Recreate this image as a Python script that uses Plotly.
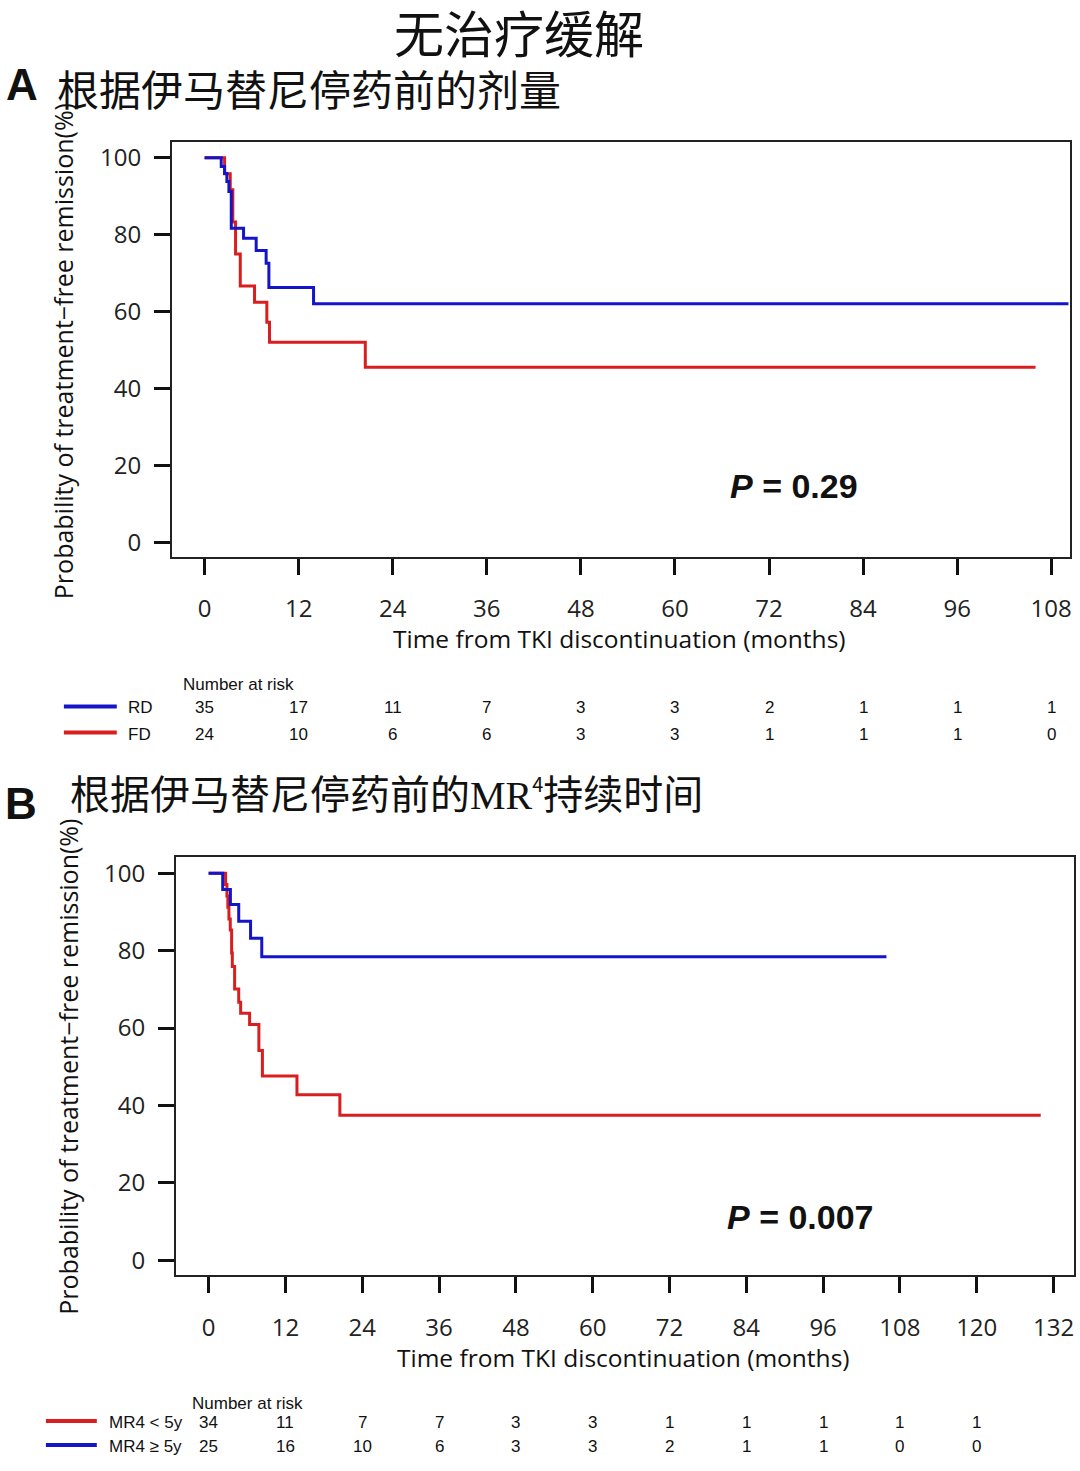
import plotly.graph_objects as go

W, H = 1080, 1471


def px(x):
    return x / W


def py(y):
    return 1 - y / H


RED = "#d81e1e"
BLUE = "#1414c8"

# ---------------- Panel A data ----------------
a_rd_t = [0, 2.12, 2.55, 2.84, 3.1, 3.4, 4.97, 6.58, 7.85, 8.2, 13.9, 110.2]
a_rd_s = [100, 97.7, 95.9, 93.8, 91.2, 81.7, 79.1, 75.9, 72.6, 66.3, 62.1, 62.1]
a_fd_t = [0, 2.55, 3.27, 3.6, 3.95, 4.55, 6.37, 7.94, 8.28, 20.5, 106]
a_fd_s = [100, 95.8, 91.7, 83.3, 75.0, 66.7, 62.5, 57.3, 52.1, 45.6, 45.6]
a_xticks = [0, 12, 24, 36, 48, 60, 72, 84, 96, 108]
a_risk_rd = [35, 17, 11, 7, 3, 3, 2, 1, 1, 1]
a_risk_fd = [24, 10, 6, 6, 3, 3, 1, 1, 1, 0]

# ---------------- Panel B data ----------------
b_ge_t = [0, 2.2, 3.4, 4.7, 6.55, 8.3, 105.9]
b_ge_s = [100, 95.8, 91.9, 87.6, 83.2, 78.4, 78.4]
b_lt_t = [0, 2.65, 2.86, 3.0, 3.17, 3.38, 3.59, 3.7, 4.06, 4.7, 5.0, 6.4, 7.85, 8.4, 13.8, 20.5, 130]
b_lt_s = [100, 97.1, 94.1, 91.2, 88.2, 85.3, 79.4, 75.9, 70.1, 66.7, 63.8, 60.9, 54.2, 47.6, 42.8, 37.5, 37.5]
b_xticks = [0, 12, 24, 36, 48, 60, 72, 84, 96, 108, 120, 132]
b_risk_times = [0, 12, 24, 36, 48, 60, 72, 84, 96, 108, 120]
b_risk_lt = [34, 11, 7, 7, 3, 3, 1, 1, 1, 1, 1]
b_risk_ge = [25, 16, 10, 6, 3, 3, 2, 1, 1, 0, 0]

y_ticks = [0, 20, 40, 60, 80, 100]

fig = go.Figure()
fig.add_trace(go.Scatter(x=a_fd_t, y=a_fd_s, mode="lines", line=dict(shape="hv", color=RED, width=3),
                         xaxis="x", yaxis="y", showlegend=False, name="FD"))
fig.add_trace(go.Scatter(x=a_rd_t, y=a_rd_s, mode="lines", line=dict(shape="hv", color=BLUE, width=3),
                         xaxis="x", yaxis="y", showlegend=False, name="RD"))
fig.add_trace(go.Scatter(x=b_lt_t, y=b_lt_s, mode="lines", line=dict(shape="hv", color=RED, width=3),
                         xaxis="x2", yaxis="y2", showlegend=False, name="MR4 < 5y"))
fig.add_trace(go.Scatter(x=b_ge_t, y=b_ge_s, mode="lines", line=dict(shape="hv", color=BLUE, width=3),
                         xaxis="x2", yaxis="y2", showlegend=False, name="MR4 ≥ 5y"))

TICKFONT = dict(family="Open Sans, Liberation Sans, sans-serif", size=24, color="#222")
axis_common = dict(showline=True, linecolor="#222", linewidth=1.5, mirror=True, showgrid=False,
                   zeroline=False, ticks="outside", ticklen=16, tickwidth=3, tickcolor="#111",
                   tickfont=TICKFONT, fixedrange=True)

fig.update_layout(
    width=W, height=H, margin=dict(l=0, r=0, t=0, b=0),
    paper_bgcolor="white", plot_bgcolor="white", showlegend=False,
    xaxis=dict(domain=[px(172), px(1072)], range=[-4.20, 110.4], tickvals=a_xticks,
               anchor="y", ticklabelstandoff=14, **axis_common),
    yaxis=dict(domain=[py(556), py(140)], range=[-3.63, 104.15], tickvals=y_ticks,
               anchor="x", ticklabelstandoff=8, **axis_common),
    xaxis2=dict(domain=[px(176), px(1076)], range=[-5.15, 135.2], tickvals=b_xticks,
                anchor="y2", ticklabelstandoff=14, **axis_common),
    yaxis2=dict(domain=[py(1276), py(857)], range=[-3.87, 104.12], tickvals=y_ticks,
                anchor="x2", ticklabelstandoff=8, **axis_common),
)

CJK = "Noto Sans CJK SC, sans-serif"
SANS = "Open Sans, Liberation Sans, sans-serif"
NARROW = "Liberation Sans Narrow, Arial Narrow, Liberation Sans, sans-serif"
ann = []


def add_text(text, x, y, size, family, xanchor="center", yanchor="middle", xref="paper", yref="paper",
             angle=0, color="#111"):
    ann.append(dict(text=text, x=x, y=y, xref=xref, yref=yref, xanchor=xanchor, yanchor=yanchor,
                    showarrow=False, textangle=angle, font=dict(size=size, family=family, color=color)))


# Titles
add_text("无治疗缓解", px(520), py(29), 50, CJK)
add_text("<b>A</b>", px(4), py(83), 44, "Liberation Sans, Arial, sans-serif", xanchor="left")
add_text("根据伊马替尼停药前的剂量", px(55), py(86), 42, CJK, xanchor="left")
add_text("<b>B</b>", px(3), py(803), 44, "Liberation Sans, Arial, sans-serif", xanchor="left")
add_text("根据伊马替尼停药前的<span style=\"font-family:Liberation Serif\">MR</span>"
         "<sup><span style=\"font-size:20px\">4</span></sup>持续时间",
         px(68), py(792), 40, CJK, xanchor="left")

# Axis titles
add_text("Probability of treatment\u2212free remission(%)", px(63), py(350), 25, SANS, angle=-90)
add_text("Time from TKI discontinuation (months)", px(621), py(638), 24.5, SANS)
add_text("Probability of treatment\u2212free remission(%)", px(68), py(1067), 25, SANS, angle=-90)
add_text("Time from TKI discontinuation (months)", px(625), py(1358), 24.5, SANS)

# P values
add_text("<b><i>P</i> = 0.29</b>", 75.2, 14.8, 34, "Liberation Sans, Arial, sans-serif", xref="x", yref="y")
add_text("<b><i>P</i> = 0.007</b>", 92.5, 11.3, 34, "Liberation Sans, Arial, sans-serif", xref="x2", yref="y2")

# Risk table A
RS = 17
add_text("Number at risk", px(181), py(684), RS, NARROW, xanchor="left")
add_text("RD", px(126), py(707), RS, NARROW, xanchor="left")
add_text("FD", px(126), py(734), RS, NARROW, xanchor="left")
for t, v in zip(a_xticks, a_risk_rd):
    add_text(str(v), t, py(707), RS, NARROW, xref="x")
for t, v in zip(a_xticks, a_risk_fd):
    add_text(str(v), t, py(734), RS, NARROW, xref="x")

# Risk table B
add_text("Number at risk", px(190), py(1404), RS, NARROW, xanchor="left")
add_text("MR4 &lt; 5y", px(107), py(1423), RS, NARROW, xanchor="left")
add_text("MR4 ≥ 5y", px(107), py(1447), RS, NARROW, xanchor="left")
for t, v in zip(b_risk_times, b_risk_lt):
    add_text(str(v), t, py(1423), RS, NARROW, xref="x2")
for t, v in zip(b_risk_times, b_risk_ge):
    add_text(str(v), t, py(1447), RS, NARROW, xref="x2")

fig.update_layout(annotations=ann)

shapes = [
    dict(type="line", xref="paper", yref="paper", x0=px(64), x1=px(117), y0=py(706), y1=py(706),
         line=dict(color=BLUE, width=4)),
    dict(type="line", xref="paper", yref="paper", x0=px(64), x1=px(117), y0=py(732), y1=py(732),
         line=dict(color=RED, width=4)),
    dict(type="line", xref="paper", yref="paper", x0=px(46), x1=px(97), y0=py(1422), y1=py(1422),
         line=dict(color=RED, width=4)),
    dict(type="line", xref="paper", yref="paper", x0=px(46), x1=px(97), y0=py(1446), y1=py(1446),
         line=dict(color=BLUE, width=4)),
]
fig.update_layout(shapes=shapes)

fig.write_html("out.html", config={"displayModeBar": False},
               post_script="document.body.style.margin='0';")
